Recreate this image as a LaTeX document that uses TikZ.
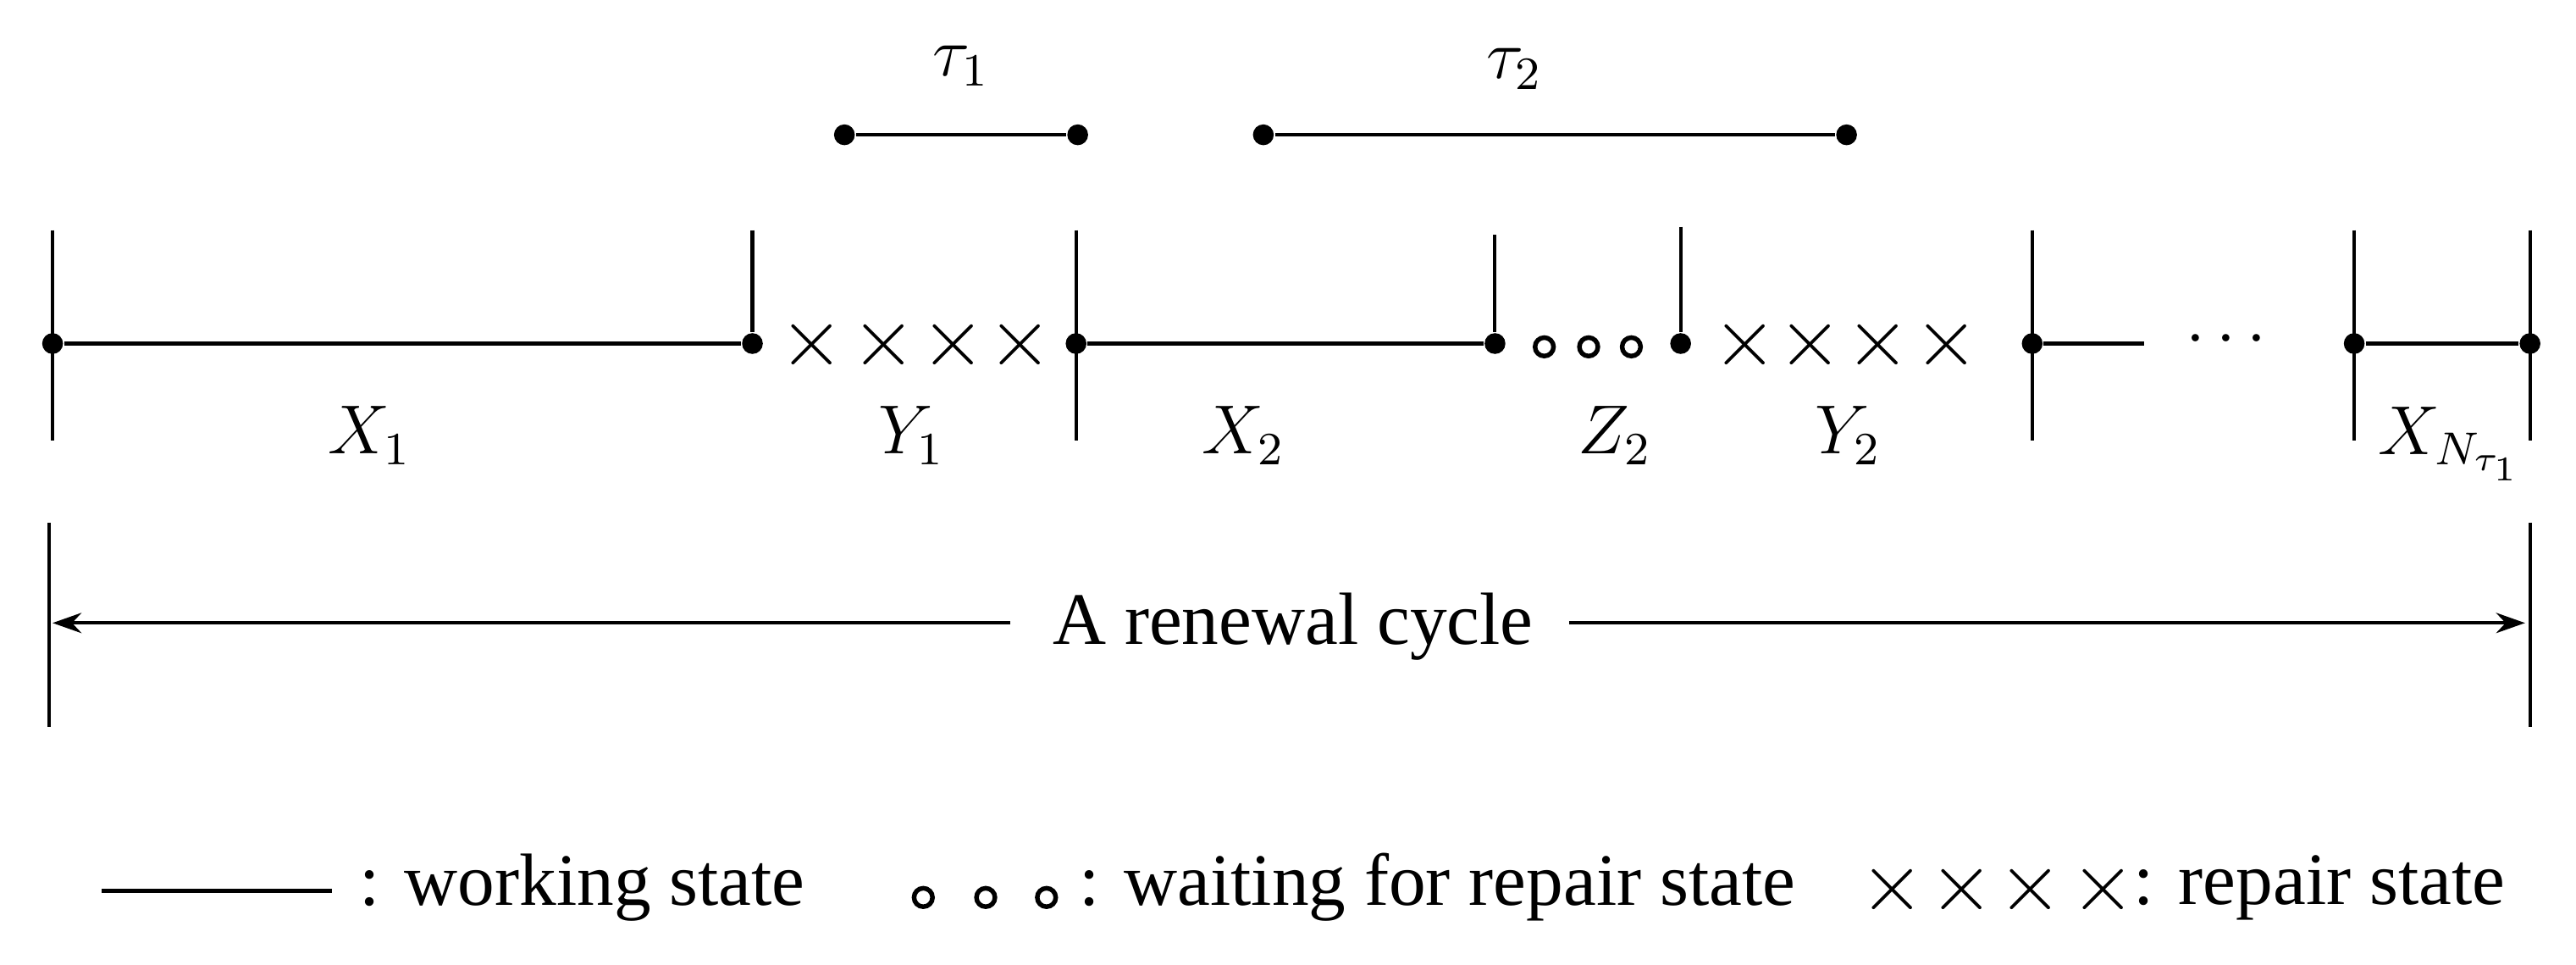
\documentclass[tikz,border=0pt]{standalone}
\usepackage{fontspec}
\setmainfont{Liberation Serif}
\usetikzlibrary{arrows.meta}
\begin{document}
\begin{tikzpicture}[x=0.01cm,y=-0.01cm,
 ln/.style={line width=0.6pt},
 dot/.style={circle,fill,inner sep=0pt,minimum size=3.6pt},
 ring/.style={circle,draw,line width=0.8pt,inner sep=0pt,minimum size=3.2pt},
 cr/.style={inner sep=0pt,font=\fontsize{15}{15}\selectfont},
 lab/.style={font=\fontsize{12}{14}\selectfont},
 txt/.style={font=\fontsize{12.8}{15}\selectfont,inner sep=0pt}]
\useasboundingbox (0,0) rectangle (1568,587);
% main dots
\foreach \n/\x in {a/32,b/458,c/655,d/910,e/1023,f/1237,g/1433,h/1540}
  \node[dot] (\n) at (\x,209) {};
\draw[ln] (32,140) -- (32,268);
\draw[ln] (458,140) -- (b);
\draw[ln] (655,140) -- (655,268);
\draw[ln] (910,143) -- (d);
\draw[ln] (1023,138) -- (e);
\draw[ln] (1237,140) -- (1237,268);
\draw[ln] (1433,140) -- (1433,268);
\draw[ln] (1540,140) -- (1540,268);
\draw[ln] (a) -- (b);
\draw[ln] (c) -- (d);
\coordinate (f2) at (1305,209);
\draw[ln] (f) -- (f2);
\draw[ln] (g) -- (h);
\foreach \x in {494,538,580,621,1062,1102,1143,1185} \node[cr] at (\x,210) {$\times$};
\foreach \x in {940,967,993} \node[ring] at (\x,211) {};
\node[txt] at (1355,207) {$\cdots$};
% labels
\node[lab] at (225,265) {$X_1$};
\node[lab] at (555,265) {$Y_1$};
\node[lab] at (757,265) {$X_2$};
\node[lab] at (983,265) {$Z_2$};
\node[lab] at (1125,265) {$Y_2$};
\node[lab] at (1492,270) {$X_{N_{\tau_1}}$};
% tau
\node[dot] (t1a) at (514,82) {}; \node[dot] (t1b) at (656,82) {};
\draw[ln] (t1a) -- (t1b);
\node[lab] at (585,40) {$\tau_1$};
\node[dot] (t2a) at (769,82) {}; \node[dot] (t2b) at (1124,82) {};
\draw[ln] (t2a) -- (t2b);
\node[lab] at (922,42) {$\tau_2$};
% renewal cycle
\draw[ln] (30,318) -- (30,442);
\draw[ln] (1540,318) -- (1540,442);
\node[txt] (rc) at (787,381) {A renewal cycle};
\coordinate (rl) at (32,379); \coordinate (rr) at (1537,379);
\draw[ln,-{Stealth[length=5pt,width=3.5pt]}] (615,379) -- (rl);
\draw[ln,-{Stealth[length=5pt,width=3.5pt]}] (955,379) -- (rr);
% legend
\coordinate (l1) at (62,542); \coordinate (l2) at (202,542);
\draw[ln] (l1) -- (l2);
\node[txt,anchor=west] at (218,540) {: working state};
\foreach \x in {562,600,637} \node[ring] at (\x,546) {};
\node[txt,anchor=west] at (656,540) {: waiting for repair state};
\foreach \x in {1152,1194,1236,1280} \node[cr] at (\x,541) {$\times$};
\node[txt,anchor=west] at (1298,540) {: repair state};
\end{tikzpicture}
\end{document}
